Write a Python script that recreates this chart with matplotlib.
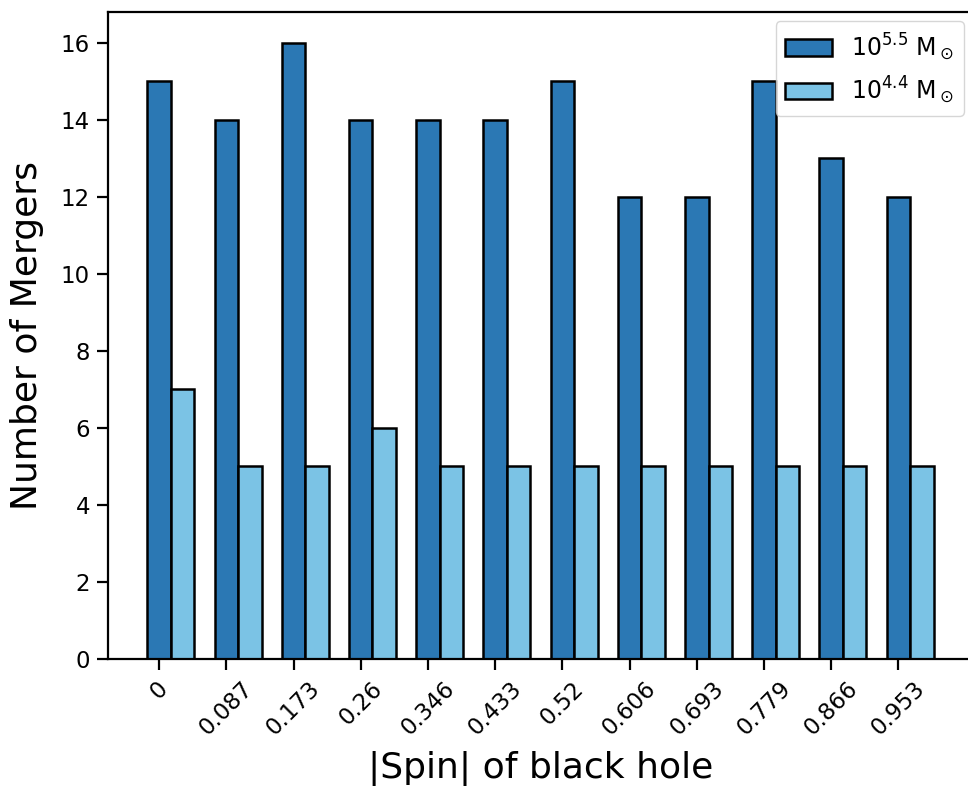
import matplotlib
matplotlib.use("Agg")
import matplotlib.pyplot as plt
import numpy as np

spins = ["0", "0.087", "0.173", "0.26", "0.346", "0.433", "0.52", "0.606", "0.693", "0.779", "0.866", "0.953"]
heavy = [15, 14, 16, 14, 14, 14, 15, 12, 12, 15, 13, 12]
light = [7, 5, 5, 6, 5, 5, 5, 5, 5, 5, 5, 5]

fig = plt.figure(figsize=(9.68, 7.86), dpi=100)
ax = fig.add_axes([108/968, (786-659)/786, (973-108)/968, (659-12)/786])

x = np.arange(len(spins))
w = 0.35
ax.bar(x, heavy, w, color="#2b78b4", edgecolor="black", linewidth=1.8, label=r"$10^{5.5}$ M$_\odot$")
ax.bar(x + w, light, w, color="#7bc3e5", edgecolor="black", linewidth=1.8, label=r"$10^{4.4}$ M$_\odot$")

ax.set_xticks(x)
ax.set_xticklabels(spins, rotation=45, fontsize=16.5)
ax.tick_params(axis="y", labelsize=16.5)
ax.tick_params(width=1.6, length=8, pad=5)
for s in ax.spines.values():
    s.set_linewidth(1.6)
ax.set_xlabel("|Spin| of black hole", fontsize=26, labelpad=8)
ax.set_ylabel("Number of Mergers", fontsize=26, labelpad=12)
ax.legend(loc="upper right", fontsize=17, borderaxespad=0.4)

fig.savefig("out.png", dpi=100)
